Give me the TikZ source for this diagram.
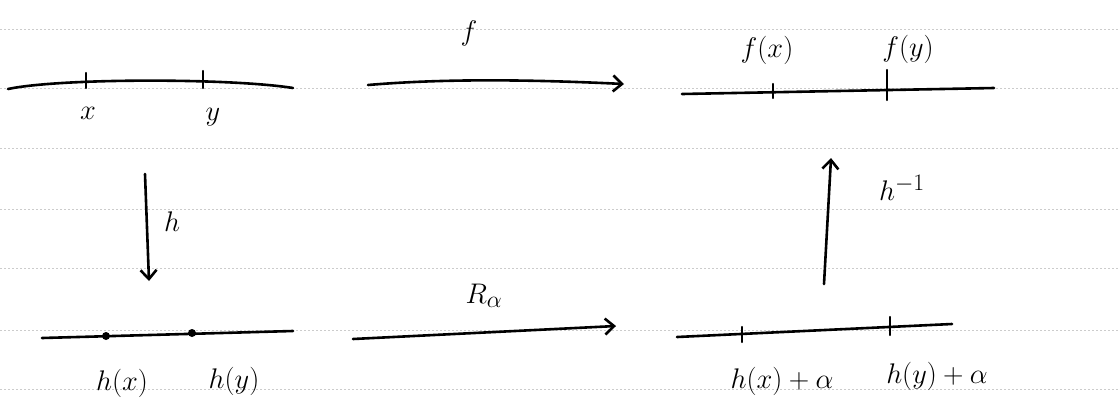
\documentclass[tikz,border=0pt]{standalone}
\usepackage{graphicx}
\usetikzlibrary{arrows.meta}
\newcommand{\lab}[1]{\scalebox{1.14}{$#1$}}
\begin{document}
\begin{tikzpicture}[x=1pt,y=-1pt,
  ink/.style={line width=2.6pt,line cap=round},
  mapto/.style={ink,-{Straight Barb[length=9pt,width=16pt,line width=2.6pt]}},
  tick/.style={ink,line width=2.2pt},
  rule/.style={gray!40,line width=0.6pt,dash pattern=on 2pt off 2pt},
  lbl/.style={inner sep=0pt,font=\Huge},
  dot/.style={circle,fill=black,inner sep=0pt,minimum size=8pt}]
\useasboundingbox (0,0) rectangle (1119,408);
% ruled notebook paper
\foreach \ry in {29,88,148,209,268,330,389}
  \draw[rule] (0,\ry) -- (1119,\ry);

% top-left real line with x and y
\coordinate (tlA) at (8,89);
\coordinate (tlB) at (293,88);
\draw[ink] (tlA) .. controls (60,78) and (230,78) .. (tlB);
\coordinate (tx) at (86,81);
\coordinate (ty) at (203,81);
\draw[tick] ([yshift=-7]tx) -- ([yshift=8]tx);
\draw[tick] ([yshift=-7]ty) -- ([yshift=10]ty);
\node[lbl] (lx) at (88,113) {\lab{x}};
\node[lbl] (ly) at (213,117) {\lab{y}};

% top arrow f
\coordinate (fA) at (368,85);
\coordinate (fB) at (624,84);
\draw[mapto] (fA) .. controls (450,78) and (540,80) .. (fB);
\node[lbl] (lf) at (469,33) {\lab{f}};

% top-right line with f(x), f(y)
\coordinate (trA) at (682,94);
\coordinate (trB) at (994,88);
\draw[ink] (trA) -- (trB);
\coordinate (tfx) at (773,92);
\coordinate (tfy) at (887,90);
\draw[tick] ([yshift=-6]tfx) -- ([yshift=8]tfx);
\draw[tick] ([yshift=-10]tfy) -- ([yshift=20]tfy);
\node[lbl] (lfx) at (767,50) {\lab{f(x)}};
\node[lbl] (lfy) at (908,49) {\lab{f(y)}};

% vertical arrow h
\coordinate (hA) at (145,174);
\coordinate (hB) at (149,281);
\draw[mapto] (hA) -- (hB);
\node[lbl] (lh) at (172,222) {\lab{h}};

% bottom-left line with h(x), h(y)
\coordinate (blA) at (42,338);
\coordinate (blB) at (293,331);
\draw[ink] (blA) -- (blB);
\node[dot] (dhx) at (106,336) {};
\node[dot] (dhy) at (192,333) {};
\node[lbl] (lhx) at (122,383) {\lab{h(x)}};
\node[lbl] (lhy) at (234,381) {\lab{h(y)}};

% bottom arrow R_alpha
\coordinate (rA) at (353,339);
\coordinate (rB) at (616,326);
\draw[mapto] (rA) -- (rB);
\node[lbl] (lr) at (484,296) {\lab{R_\alpha}};

% bottom-right line with h(x)+alpha, h(y)+alpha
\coordinate (brA) at (677,337);
\coordinate (brB) at (952,324);
\draw[ink] (brA) -- (brB);
\coordinate (bx) at (742,334);
\coordinate (by) at (890,326);
\draw[tick] ([yshift=-8]bx) -- ([yshift=7]bx);
\draw[tick] ([yshift=-9]by) -- ([yshift=9]by);
\node[lbl] (lbx) at (782,381) {\lab{h(x)+\alpha}};
\node[lbl] (lby) at (937,376) {\lab{h(y)+\alpha}};

% vertical arrow h^{-1}
\coordinate (iA) at (824,284);
\coordinate (iB) at (831,158);
\draw[mapto] (iA) -- (iB);
\node[lbl] (li) at (902,188) {\lab{h^{-1}}};
\end{tikzpicture}
\end{document}
